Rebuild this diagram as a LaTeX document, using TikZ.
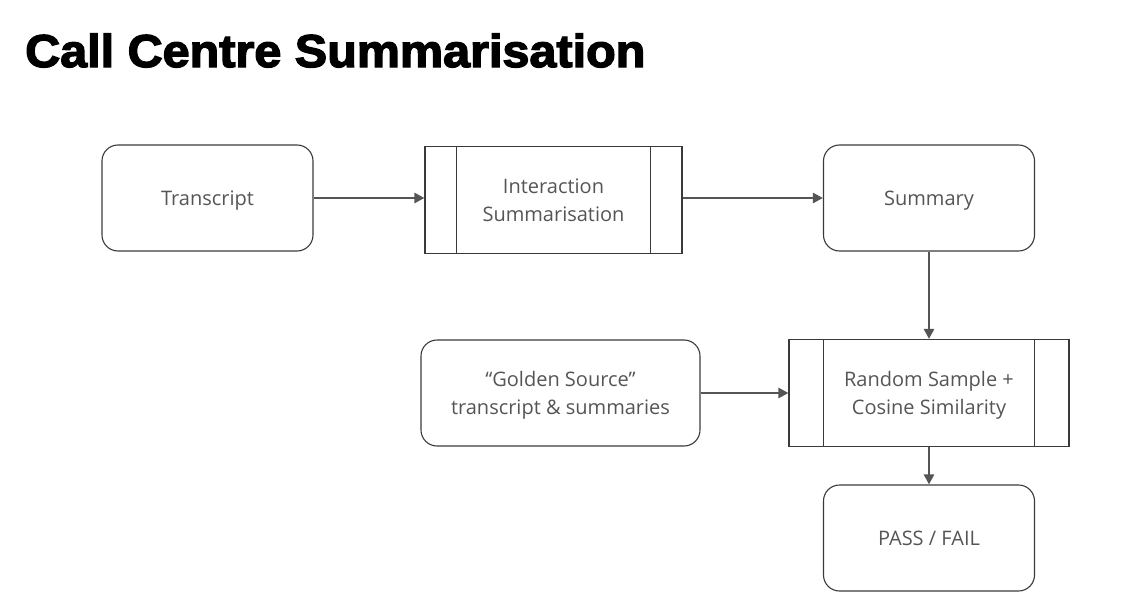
\documentclass[tikz,border=0pt]{standalone}
\usepackage{fontspec}
\setmainfont{Open Sans}
\newfontfamily\titlefont[FakeBold=3,FakeStretch=1.055]{Liberation Sans Bold}
\usetikzlibrary{arrows.meta}
\definecolor{boxline}{HTML}{3A3A3A}
\definecolor{arrowgray}{HTML}{555555}
\definecolor{textgray}{HTML}{555555}
\begin{document}
\begin{tikzpicture}[x=1pt,y=-1pt,
    box/.style={draw=boxline,line width=1.1pt,rounded corners=16pt,minimum width=211pt,minimum height=106pt,
      align=center,text=textgray,text depth=0pt,font=\fontsize{20}{28}\selectfont},
    subproc/.style={draw=boxline,line width=1.1pt,minimum height=107pt,
      align=center,text=textgray,text depth=0pt,font=\fontsize{20}{28}\selectfont},
    flow/.style={draw=arrowgray,line width=2.8pt,-{Triangle[length=10pt,width=10pt]}}]
    \useasboundingbox (0,0) rectangle (1125,610);
    \node[anchor=base west,inner sep=0,font=\titlefont\fontsize{46}{50}\selectfont](title) at (25,67) {Call Centre Summarisation};

    \node[box](trans) at (207.5,198) {Transcript};
    \node[subproc,minimum width=257pt](inter) at (553.5,200) {Interaction\\Summarisation};
    \node[box](summ) at (929,198) {Summary};
    \node[box,minimum width=279pt](gold) at (560.5,393) {``Golden Source''\\transcript \& summaries};
    \node[subproc,minimum width=280pt](rand) at (929,393) {Random Sample +\\Cosine Similarity};
    \node[box](pass) at (929,538) {PASS / FAIL};

    % side bars of the process boxes
    \foreach \n/\d in {inter/32, rand/35} {
      \draw[boxline,line width=1.1pt] ([xshift=\d pt]\n.north west) -- ([xshift=\d pt]\n.south west);
      \draw[boxline,line width=1.1pt] ([xshift=-\d pt]\n.north east) -- ([xshift=-\d pt]\n.south east);
    }

    \draw[flow] (trans) -- (trans -| inter.west);
    \draw[flow] (inter.east |- summ) -- (summ);
    \draw[flow] (summ) -- (rand);
    \draw[flow] (gold) -- (rand);
    \draw[flow] (rand) -- (pass);
  \end{tikzpicture}
\end{document}
